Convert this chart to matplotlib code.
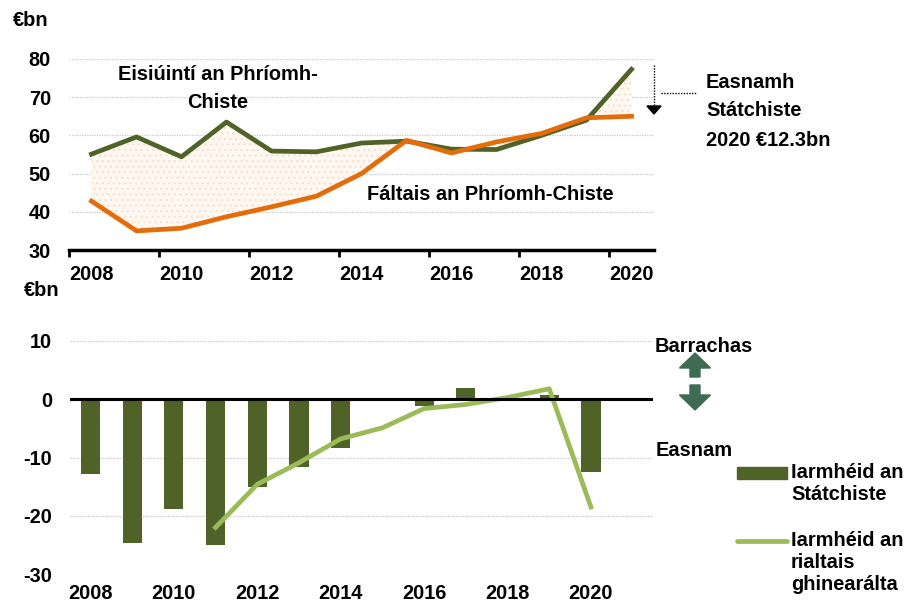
import matplotlib
matplotlib.use("Agg")
import matplotlib.pyplot as plt
import numpy as np
from matplotlib.patches import Polygon, Rectangle
from matplotlib.lines import Line2D

plt.rcParams["font.family"] = ["Liberation Sans", "DejaVu Sans"]
plt.rcParams["font.weight"] = "bold"
plt.rcParams["font.size"] = 14.4
plt.rcParams["axes.unicode_minus"] = False

years = list(range(2008, 2021))
# Exchequer spending and receipts (€bn)
spend = [55.1, 59.6, 54.4, 63.5, 55.9, 55.7, 58.0, 58.5, 56.4, 56.3, 60.0, 64.0, 77.3]
receipts = [42.8, 35.0, 35.7, 38.7, 41.3, 44.1, 50.0, 58.7, 55.4, 58.3, 60.5, 64.6, 65.0]
# balances (€bn)
exch_balance = [-12.9, -24.7, -18.8, -25.0, -15.0, -11.6, -8.3, -0.3, -1.1, 2.0, 0.1, 0.7, -12.5]
gg_balance = [np.nan, np.nan, np.nan, -22.0, -14.6, -10.9, -6.8, -4.9, -1.6, -0.9, 0.3, 1.8, -18.5]

DARK_GREEN = "#4f6228"
LIGHT_GREEN = "#9bbb59"
ORANGE = "#e46c0a"
ARROW_GREEN = "#3f6b52"
GRID = "#c8c8c8"

W, H = 912, 605
fig = plt.figure(figsize=(W / 100, H / 100), dpi=100)


def box(left, top, right, bottom):
    return [left / W, 1 - bottom / H, (right - left) / W, (bottom - top) / H]


x = np.arange(len(years))

# ---- top chart
ax1 = fig.add_axes(box(69, 59, 654, 250))
ax1.fill_between(x, receipts, spend, facecolor="#fef8f3", edgecolor="#f9e0cf",
                 hatch="...", linewidth=0, zorder=1)
ax1.plot(x, spend, color=DARK_GREEN, lw=3.4, zorder=3)
ax1.plot(x, receipts, color=ORANGE, lw=3.4, zorder=4)
ax1.set_xlim(-0.5, len(years) - 0.5)
ax1.set_ylim(30, 80)
ax1.set_yticks([30, 40, 50, 60, 70, 80])
for v in [40, 50, 60, 70, 80]:
    ax1.axhline(v, color=GRID, lw=0.9, ls=(0, (1, 1)), zorder=0)
ax1.set_xticks(np.arange(-0.5, len(years) - 1, 2))
ax1.set_xticklabels([])
ax1.set_xticks(x[::2], minor=True)
ax1.set_xticklabels([str(y) for y in years[::2]], minor=True)
ax1.tick_params(axis="x", which="major", direction="out", length=5, width=2)
ax1.tick_params(axis="x", which="minor", length=0, pad=11)
ax1.tick_params(axis="y", length=0, pad=13)
for s in ["top", "right", "left"]:
    ax1.spines[s].set_visible(False)
ax1.spines["bottom"].set_linewidth(2.5)

# ---- bottom chart
ax2 = fig.add_axes(box(69.6, 341, 653.5, 574))
ax2.bar(x, exch_balance, width=0.46, color=DARK_GREEN, zorder=2)
ax2.plot(x, gg_balance, color=LIGHT_GREEN, lw=3.4, zorder=3)
ax2.set_xlim(-0.5, len(years) + 0.5)
ax2.set_ylim(-30, 10)
ax2.set_yticks([-30, -20, -10, 0, 10])
for v in [-30, -20, -10, 10]:
    ax2.axhline(v, color=GRID, lw=0.9, ls=(0, (1, 1)), zorder=0)
ax2.axhline(0, color="black", lw=2.2, zorder=4)
ax2.set_xticks(x[::2])
ax2.set_xticklabels([str(y) for y in years[::2]])
ax2.tick_params(axis="x", length=0, pad=7.5)
ax2.tick_params(axis="y", length=0, pad=12.5)
for s in ["top", "right", "left", "bottom"]:
    ax2.spines[s].set_visible(False)

# ---- overlay in pixel coordinates for annotations and legend
ov = fig.add_axes([0, 0, 1, 1], facecolor="none")
ov.set_xlim(0, W)
ov.set_ylim(H, 0)
ov.axis("off")

txt = dict(fontsize=14.4, fontweight="bold", va="center")
ov.text(13, 20, "€bn", ha="left", **txt)
ov.text(24, 291, "€bn", ha="left", **txt)
ov.text(218, 75, "Eisiúintí an Phríomh-", ha="center", **txt)
ov.text(218, 102, "Chiste", ha="center", **txt)
ov.text(367, 195, "Fáltais an Phríomh-Chiste", ha="left", **txt)
ov.text(706, 82, "Easnamh", ha="left", **txt)
ov.text(706, 110, "Státchiste", ha="left", **txt)
ov.text(706, 140, "2020 €12.3bn", ha="left", **txt)

# dotted deficit arrow
ov.plot([654, 654], [65, 106], color="black", lw=1, ls=(0, (1, 1)))
ov.add_patch(Polygon([(647, 106), (661, 106), (654, 114)], closed=True, color="black"))
ov.plot([661, 697], [93, 93], color="black", lw=1, ls=(0, (1, 1)))

# surplus / deficit arrows
ov.text(655, 346, "Barrachas", ha="left", **txt)
ov.text(656, 450, "Easnam", ha="left", **txt)
cx = 695
ov.add_patch(Polygon([(cx, 353), (cx + 15.5, 368), (cx + 5, 368), (cx + 5, 377),
                      (cx - 5, 377), (cx - 5, 368), (cx - 15.5, 368)],
                     closed=True, color=ARROW_GREEN))
ov.add_patch(Polygon([(cx, 410), (cx + 15.5, 395), (cx + 5, 395), (cx + 5, 385),
                      (cx - 5, 385), (cx - 5, 395), (cx - 15.5, 395)],
                     closed=True, color=ARROW_GREEN))

# legend
ov.add_patch(Rectangle((737, 467), 50, 12, color=DARK_GREEN))
ov.text(791, 473, "Iarmhéid an", ha="left", **txt)
ov.text(791, 495, "Státchiste", ha="left", **txt)
ov.add_line(Line2D([737, 787], [540.5, 540.5], color=LIGHT_GREEN, lw=3.4,
                   solid_capstyle="round"))
ov.text(791, 540, "Iarmhéid an", ha="left", **txt)
ov.text(791, 563, "rialtais", ha="left", **txt)
ov.text(791, 584, "ghinearálta", ha="left", **txt)

fig.savefig("out.png", dpi=100)
